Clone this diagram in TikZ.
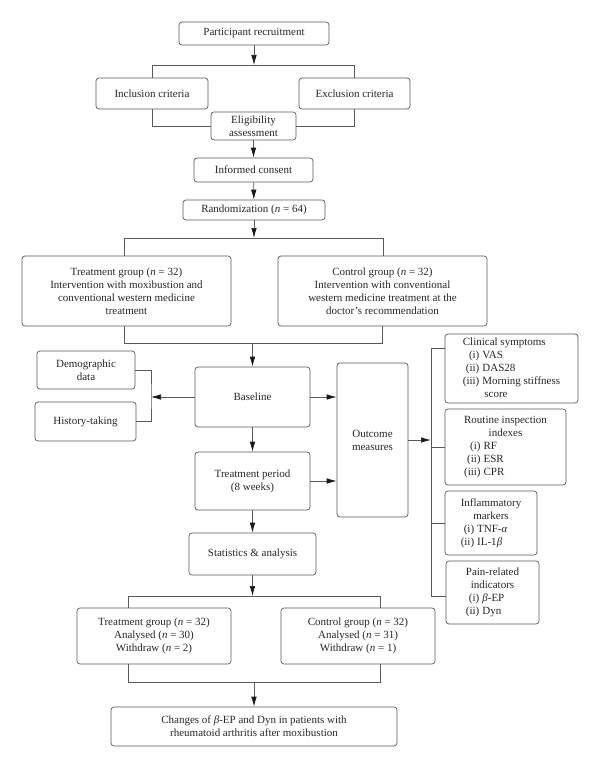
\documentclass[tikz,border=0pt]{standalone}
\usepackage{fontspec}
\setmainfont{Liberation Serif}
\usetikzlibrary{arrows.meta,calc}
\begin{document}
\begin{tikzpicture}[x=1pt,y=-1pt,
  box/.style={draw=black!65, line width=0.7pt, rounded corners=3pt, align=center, inner sep=2pt,
              font=\fontsize{11}{13}\selectfont, text=black!85},
  ln/.style={draw=black!65, line width=0.7pt},
  arr/.style={ln, -{Latex[length=10pt,width=5.5pt,color=black!90]}},
]
\useasboundingbox (0,0) rectangle (600,768);

% nodes
\node[box, minimum width=150pt, minimum height=23pt] (rec) at (254,33.5) {Participant recruitment};
\node[box, minimum width=112pt, minimum height=31pt] (inc) at (152,93.5) {Inclusion criteria};
\node[box, minimum width=111pt, minimum height=31pt] (exc) at (354.5,93.5) {Exclusion criteria};
\node[box, minimum width=85pt, minimum height=28pt, fill=white] (elig) at (253.5,126) {Eligibility\\assessment};
\node[box, minimum width=119pt, minimum height=24pt] (cons) at (253.5,170) {Informed consent};
\node[box, minimum width=142pt, minimum height=20pt] (rand) at (254,210) {Randomization (\textit{n} = 64)};
\node[box, minimum width=209pt, minimum height=70pt] (tg) at (126.5,291) {Treatment group (\textit{n} = 32)\\Intervention with moxibustion and\\conventional western medicine\\treatment};
\node[box, minimum width=209pt, minimum height=70pt] (cg) at (382.5,291) {Control group (\textit{n} = 32)\\Intervention with conventional\\western medicine treatment at the\\doctor’s recommendation};
\node[box, minimum width=98pt, minimum height=38pt] (demo) at (86,370) {Demographic\\data};
\node[box, minimum width=101pt, minimum height=39pt] (hist) at (85.5,421.5) {History-taking};
\node[box, minimum width=115pt, minimum height=60pt] (base) at (252.5,397) {Baseline};
\node[box, minimum width=115pt, minimum height=58pt] (tp) at (252.5,481) {Treatment period\\(8 weeks)};
\node[box, minimum width=71pt, minimum height=154pt] (out) at (372.5,440) {Outcome\\measures};
\node[box, minimum width=127pt, minimum height=42pt] (stat) at (252.5,554) {Statistics \& analysis};
\node[box, minimum width=133pt, minimum height=69pt] (clin) at (511.5,368.5)
  {\begin{tabular}{@{}r@{\hspace{3pt}}l@{}}\multicolumn{2}{@{}l@{}}{Clinical symptoms}\\(i)&VAS\\(ii)&DAS28\\(iii)&Morning stiffness\\&\hspace{2pt}score\end{tabular}};
\node[box, minimum width=121pt, minimum height=76pt] (rout) at (505.5,447)
  {\begin{tabular}{@{}r@{\hspace{3pt}}l@{}}\multicolumn{2}{@{}c@{}}{Routine inspection}\\\multicolumn{2}{@{}c@{}}{indexes}\\(i)&RF\\(ii)&ESR\\(iii)&CPR\end{tabular}};
\node[box, minimum width=92pt, minimum height=64pt] (infl) at (491,523)
  {\begin{tabular}{@{}r@{\hspace{3pt}}l@{}}\multicolumn{2}{@{}c@{}}{Inflammatory}\\\multicolumn{2}{@{}c@{}}{markers}\\(i)&TNF-\textit{α}\\(ii)&IL-1\textit{β}\end{tabular}};
\node[box, minimum width=93pt, minimum height=63pt] (pain) at (492.5,592.5)
  {\begin{tabular}{@{}r@{\hspace{3pt}}l@{}}\multicolumn{2}{@{}c@{}}{Pain-related}\\\multicolumn{2}{@{}c@{}}{indicators}\\(i)&\textit{β}-EP\\(ii)&Dyn\end{tabular}};
\node[box, minimum width=154pt, minimum height=56pt] (tg2) at (154,636) {Treatment group (\textit{n} = 32)\\Analysed (\textit{n} = 30)\\Withdraw (\textit{n} = 2)};
\node[box, minimum width=154pt, minimum height=56pt] (cg2) at (358,636) {Control group (\textit{n} = 32)\\Analysed (\textit{n} = 31)\\Withdraw (\textit{n} = 1)};
\node[box, minimum width=286pt, minimum height=39pt] (fin) at (254,726.5) {Changes of \textit{β}-EP and Dyn in patients with\\rheumatoid arthritis after moxibustion};

% connectors
\coordinate (h1) at (254,65);
\draw[arr] (rec) -- (rec.south |- h1);
\draw[ln] (inc.north) -- (inc.north |- h1) -- (exc.north |- h1) -- (exc.north);
\draw[ln] (inc.south) |- (elig.west);
\draw[ln] (exc.south) |- (elig.east);
\draw[arr] (elig) -- (cons);
\draw[arr] (cons) -- (rand);

\coordinate (h2) at (254,238);
\coordinate (v1) at (124,238);
\coordinate (v2) at (383,238);
\draw[arr] (rand) -- (rand.south |- h2);
\draw[ln] (v1 |- tg.north) -- (v1) -- (v2) -- (v2 |- cg.north);

\coordinate (h3) at (253,343);
\coordinate (v3) at (124,343);
\coordinate (v4) at (382,343);
\draw[ln] (v3 |- tg.south) -- (v3) -- (v4) -- (v4 |- cg.south);
\draw[arr] (base.north |- h3) -- (base.north);

\coordinate (bl) at (151,397);
\draw[ln] (demo.east) -| (bl) |- (hist.east);
\draw[arr] (base.west) -- (bl);
\draw[arr] (base.east) -- (base.east -| out.west);
\draw[arr] (tp.east) -- (tp.east -| out.west);
\draw[arr] (base) -- (tp);
\draw[arr] (tp) -- (stat);

\coordinate (br) at (431,440);
\coordinate (bt) at (431,348);
\coordinate (bb) at (431,596);
\draw[arr] (out.east) -- (br);
\draw[ln] (bt) -- (bb);
\draw[ln] (bt) -- (bt -| clin.west);
\draw[ln] (br |- rout.west) -- (rout.west);
\draw[ln] (br |- infl.west) -- (infl.west);
\draw[ln] (bb) -- (bb -| pain.west);

\coordinate (h4) at (254,596);
\coordinate (v5) at (128,596);
\coordinate (v6) at (380,596);
\draw[arr] (stat) -- (stat.south |- h4);
\draw[ln] (v5 |- tg2.north) -- (v5) -- (v6) -- (v6 |- cg2.north);

\coordinate (h5) at (254,682);
\coordinate (v7) at (128,682);
\coordinate (v8) at (380,682);
\draw[ln] (v7 |- tg2.south) -- (v7) -- (v8) -- (v8 |- cg2.south);
\draw[arr] (h5) -- (h5 |- fin.north);
\end{tikzpicture}
\end{document}
